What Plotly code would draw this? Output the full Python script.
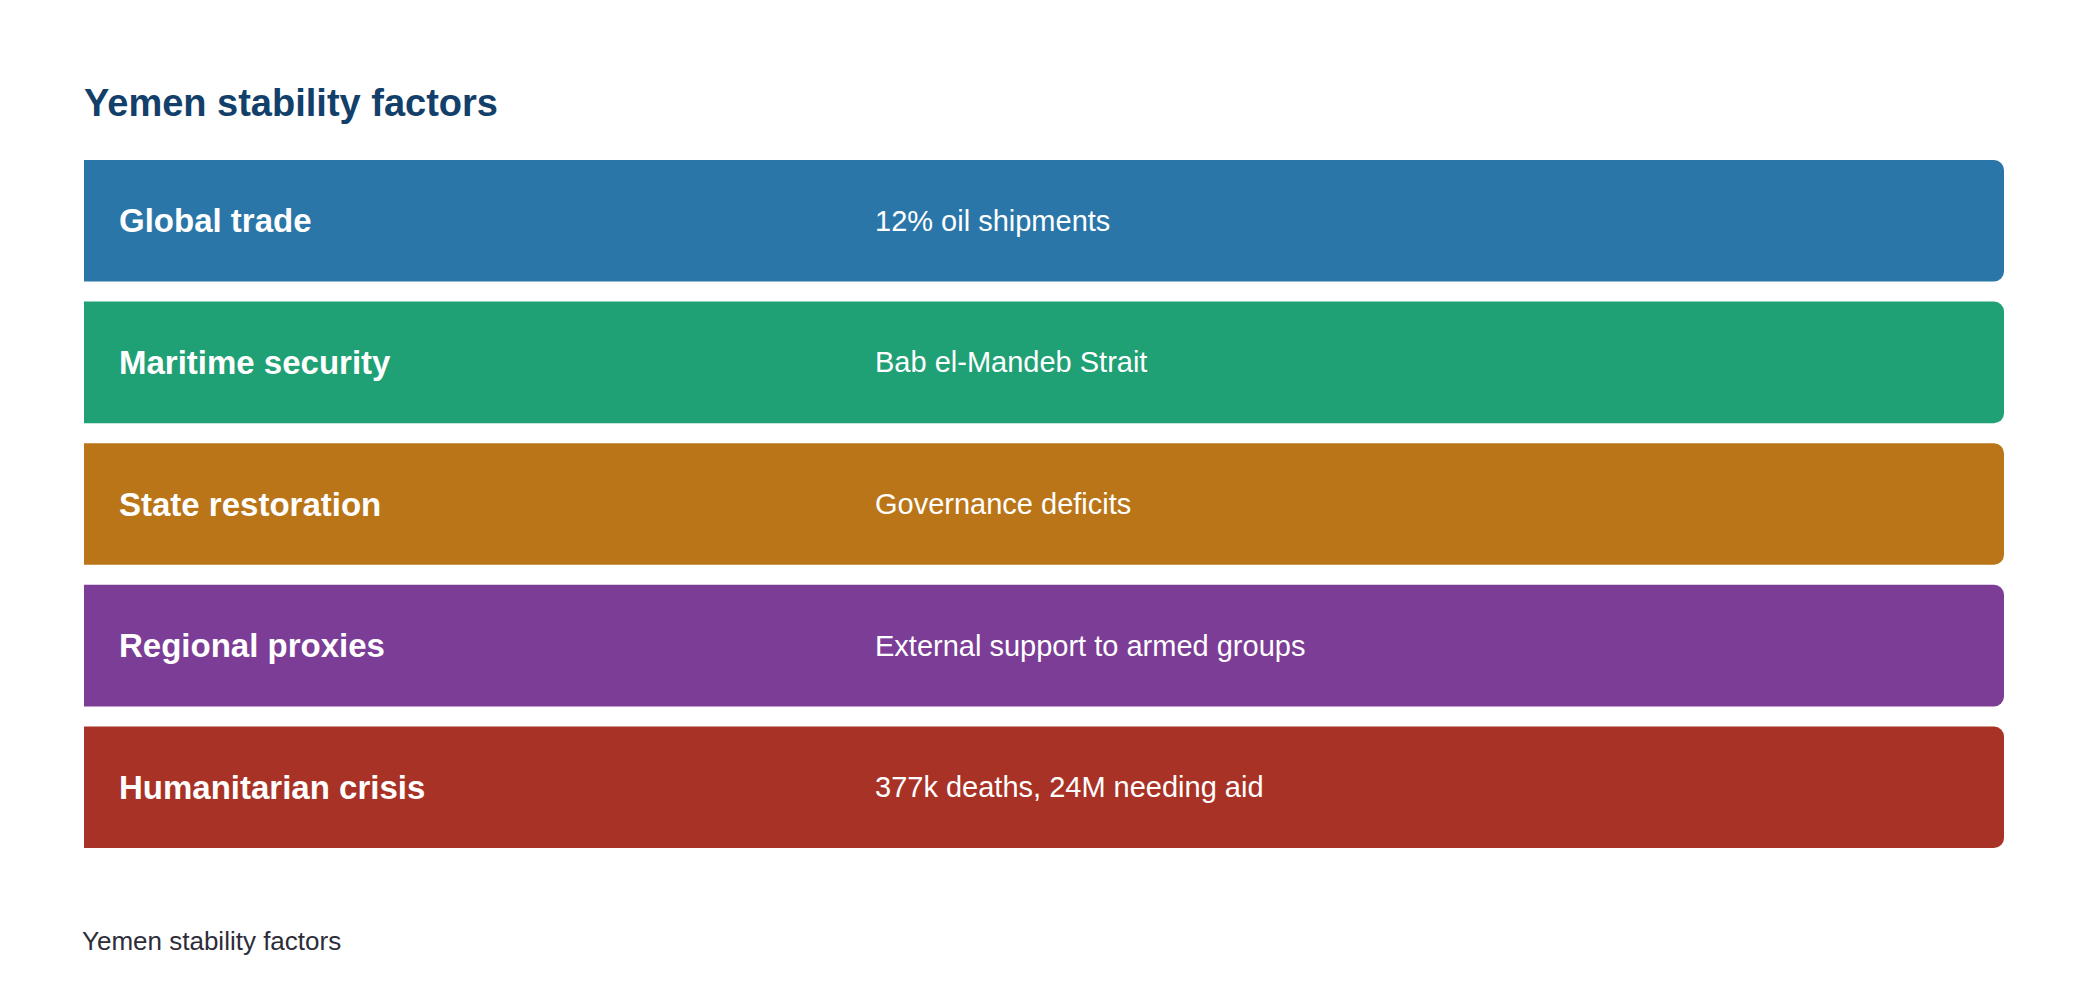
import plotly.graph_objects as go

factors = ["Global trade", "Maritime security", "State restoration", "Regional proxies", "Humanitarian crisis"]
details = ["12% oil shipments", "Bab el-Mandeb Strait", "Governance deficits",
           "External support to armed groups", "377k deaths, 24M needing aid"]
colors = ["#2a76a9", "#1fa075", "#bb7519", "#7c3d97", "#a93226"]
ypos = list(range(len(factors)))
w = 122 / 142.2

fig = go.Figure(go.Bar(
    x=[1] * len(factors), y=ypos, orientation="h", width=w,
    marker=dict(color=colors, line=dict(width=0)), hoverinfo="skip",
))
for i, (f, d) in enumerate(zip(factors, details)):
    fig.add_annotation(x=0, y=i, text="<b>%s</b>" % f, xanchor="left", xshift=33,
                       showarrow=False, font=dict(size=33, color="white"))
    fig.add_annotation(x=0.411, y=i, text=d, xanchor="left", showarrow=False,
                       font=dict(size=29, color="white"))
fig.add_annotation(xref="paper", yref="paper", x=-0.002, y=-0.135, xanchor="left",
                   yanchor="middle", text="Yemen stability factors", showarrow=False,
                   font=dict(size=26, color="#2d2d3a"))
fig.update_layout(
    width=2080, height=1006, barcornerradius=10,
    margin=dict(l=76, r=84, t=152, b=166),
    paper_bgcolor="white", plot_bgcolor="white",
    font=dict(family="Liberation Sans, Arial, sans-serif"),
    title=dict(text="<b>Yemen stability factors</b>", x=76 / 2080, xanchor="left",
               xref="container", y=1 - 95 / 1006, yanchor="middle",
               font=dict(size=38, color="#12406a")),
    xaxis=dict(range=[0, 1], visible=False),
    yaxis=dict(range=[4 + w / 2, -w / 2], visible=False),
    showlegend=False,
)
fig.write_html("out.html")
